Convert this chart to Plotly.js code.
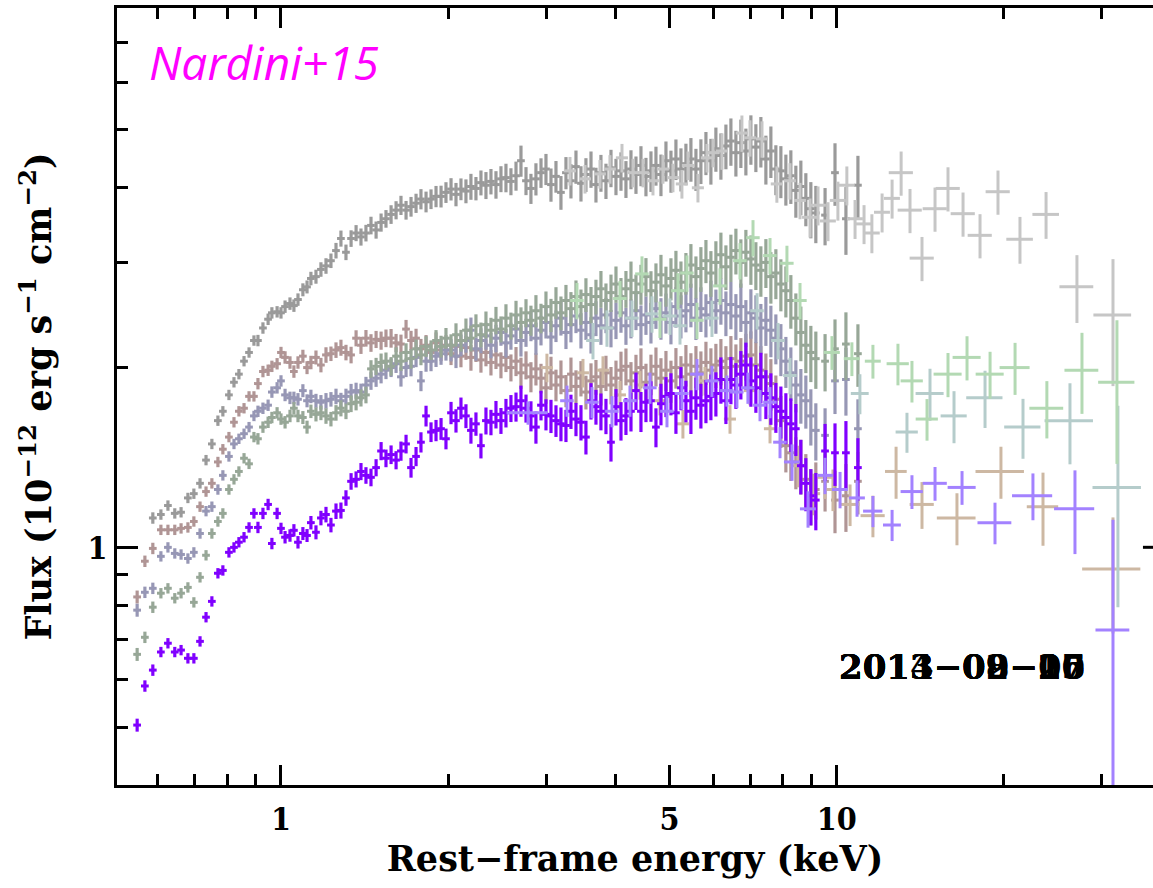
<!DOCTYPE html>
<html>
<head>
<meta charset="utf-8">
<script src="https://cdn.plot.ly/plotly-3.0.1.min.js"></script>
<style>html,body{margin:0;padding:0;background:#fff;}#plot{width:1153px;height:888px;}</style>
</head>
<body>
<div id="plot"></div>
<script>
// ---------- XMM-Newton spectra (shared energy bins, keV) ----------
const E_xmm = [
0.551,0.569,0.588,0.608,0.626,0.644,0.661,0.680,0.697,0.715,0.733,0.751,0.770,0.786,0.806,0.823,0.840,0.858,0.876,0.894,0.909,0.928,0.948,0.963,0.984,1.000,1.017,1.038,1.055,1.073,1.095,1.114,1.132,
1.156,1.180,1.205,1.230,1.256,1.282,1.309,1.337,1.365,1.393,
1.422,1.452,1.483,1.514,1.545,1.578,1.611,1.644,1.679,1.714,
1.750,1.786,1.824,1.862,1.901,1.941,1.981,2.023,2.065,2.108,
2.152,2.197,2.243,2.290,2.338,2.387,2.437,2.488,2.540,2.593,
2.648,2.703,2.760,2.817,2.876,2.937,2.998,3.061,3.125,3.190,
3.257,3.325,3.395,3.466,3.538,3.613,3.688,3.765,3.844,3.925,
4.007,4.091,4.176,4.264,4.353,4.444,4.537,4.632,4.729,4.828,
4.929,5.032,5.137,5.245,5.354,5.466,5.581,5.697,5.817,5.938,
6.062,6.189,6.319,6.451,6.586,6.723,6.864,7.008,7.154,7.304,
7.457,7.613,7.772,7.935,8.101,8.270,8.443,8.620,8.800,8.984,
9.172,
9.53,9.93,10.39,10.92];

const F_gray = [
null,null,1.12,1.135,1.175,1.14,1.145,1.21,1.23,1.28,1.40,1.49,1.63,1.69,1.80,1.89,1.95,2.05,2.12,2.22,2.22,2.33,2.41,2.47,2.48,2.47,2.53,2.56,2.54,2.60,2.70,2.73,2.82,
2.84,2.92,2.96,3.02,3.14,3.29,3.12,3.29,3.36,3.31,
3.36,3.46,3.40,3.50,3.55,3.61,3.67,3.74,3.67,3.72,
3.77,3.83,3.79,3.83,3.87,3.87,3.93,3.98,3.90,3.98,
3.95,4.02,3.99,4.08,4.04,4.10,4.05,4.14,4.16,4.10,
4.19,4.44,4.11,3.99,4.14,4.24,4.30,4.05,4.18,3.93,
4.24,4.11,4.34,4.07,4.21,4.30,4.05,4.24,4.11,4.32,
4.18,4.27,4.14,4.30,4.21,4.36,4.18,4.27,4.36,4.21,
4.44,4.27,4.47,4.30,4.39,4.47,4.30,4.44,4.58,4.44,
4.65,4.53,4.70,4.79,4.58,4.76,4.61,4.83,4.68,4.79,
4.47,4.61,4.30,4.27,4.14,4.19,3.96,4.02,3.84,3.69,
3.63,
3.60,4.24,3.55,4.04];

const F_pink = [
0.826,0.948,0.996,1.07,1.07,1.07,1.076,1.08,1.105,1.17,1.24,1.28,1.39,1.46,1.53,1.62,1.69,1.71,1.79,1.79,1.88,1.97,1.98,2.01,2.03,2.12,2.08,2.04,1.97,2.04,2.09,2.00,2.04,
2.08,2.02,2.10,2.11,2.14,2.16,2.12,2.10,2.24,2.18,
2.24,2.20,2.23,2.22,2.24,2.24,2.20,2.19,2.32,2.22,
2.24,2.15,2.18,2.12,2.20,2.14,2.18,2.11,2.17,2.09,
2.16,2.08,2.14,2.06,2.12,2.04,2.10,2.02,2.08,2.00,
2.05,1.96,2.02,1.93,1.99,1.92,1.85,1.96,1.87,1.93,
1.83,1.95,1.86,1.92,1.82,1.90,1.93,1.86,1.96,1.87,
1.92,1.98,2.01,1.90,1.96,2.00,1.89,1.95,2.01,1.92,
1.98,1.90,2.00,1.93,2.02,1.95,2.01,1.96,2.04,1.98,
2.02,2.05,2.00,2.07,2.01,2.05,2.09,2.10,2.02,1.98,
1.93,1.88,1.77,1.63,1.48,1.44,1.39,1.37,1.30,1.22,
1.25,
1.29,1.20,1.22,1.29];

const F_blue = [
0.785,0.841,0.854,0.966,1.00,0.977,0.973,0.958,0.981,1.055,1.15,1.17,1.25,1.32,1.42,1.49,1.52,1.55,1.59,1.66,1.69,1.71,1.73,1.82,1.85,1.90,1.80,1.78,1.78,1.77,1.83,1.76,1.79,
1.76,1.75,1.76,1.77,1.79,1.76,1.79,1.82,1.83,1.82,
1.87,1.90,1.92,1.95,1.98,2.00,2.03,1.93,2.00,2.01,
2.08,1.90,2.05,2.05,2.09,2.11,2.14,2.14,2.09,2.18,
2.22,2.31,2.15,2.22,2.26,2.18,2.24,2.29,2.20,2.26,
2.32,2.22,2.29,2.35,2.24,2.31,2.38,2.25,2.35,2.42,
2.29,2.36,2.44,2.31,2.38,2.27,2.42,2.35,2.45,2.33,
2.40,2.47,2.35,2.42,2.49,2.36,2.45,2.38,2.51,2.42,
2.47,2.38,2.53,2.44,2.49,2.55,2.42,2.51,2.45,2.57,
2.49,2.59,2.47,2.55,2.44,2.53,2.38,2.47,2.42,2.33,
2.40,2.31,2.24,2.15,2.05,1.96,1.87,1.80,1.76,1.66,
1.57,
1.54,1.90,1.91,1.58];

const F_green = [
0.662,0.707,0.794,0.838,0.854,0.822,0.838,0.857,0.809,0.891,0.970,1.055,1.105,1.14,1.25,1.30,1.34,1.41,1.38,1.53,1.52,1.59,1.62,1.65,1.68,1.64,1.62,1.66,1.71,1.66,1.65,1.59,1.69,
1.67,1.68,1.66,1.64,1.68,1.71,1.69,1.74,1.75,1.78,
1.80,1.99,2.01,2.04,2.05,2.01,2.09,2.05,2.12,2.07,
2.15,2.10,2.17,2.14,2.22,2.17,2.24,2.18,2.27,2.22,
2.31,2.24,2.35,2.27,2.36,2.31,2.40,2.32,2.42,2.35,
2.45,2.38,2.47,2.40,2.49,2.42,2.53,2.45,2.57,2.47,
2.59,2.51,2.63,2.53,2.65,2.55,2.63,2.71,2.59,2.67,
2.76,2.63,2.71,2.80,2.67,2.76,2.84,2.69,2.78,2.86,
2.74,2.82,2.91,2.78,2.88,2.97,2.84,2.93,3.02,2.88,
3.00,3.09,2.95,3.06,3.14,3.00,3.12,3.04,2.97,2.91,
3.00,2.84,2.88,2.76,2.69,2.59,2.42,2.29,2.18,2.12,
2.07,
2.05,2.15,2.19,2.11];

const F_purple = [
0.504,0.586,0.623,0.668,0.691,0.668,0.673,0.652,0.652,0.696,0.764,0.812,0.905,0.915,0.981,1.00,1.02,1.04,1.08,1.14,1.08,1.14,1.18,1.015,1.14,1.076,1.04,1.047,1.068,1.02,1.055,1.047,1.10,
1.06,1.12,1.135,1.09,1.15,1.153,1.21,1.29,1.30,1.34,
1.32,1.31,1.36,1.45,1.41,1.43,1.40,1.45,1.49,1.36,
1.42,1.50,1.66,1.56,1.57,1.58,1.52,1.68,1.63,1.71,
1.66,1.57,1.61,1.48,1.63,1.62,1.67,1.63,1.68,1.71,
1.72,1.76,1.71,1.66,1.59,1.73,1.67,1.66,1.63,1.61,
1.60,1.69,1.64,1.62,1.53,1.76,1.72,1.69,1.66,1.50,
1.72,1.63,1.66,1.69,1.83,1.69,1.75,1.76,1.59,1.74,
1.79,1.81,1.68,1.85,1.76,1.69,1.78,1.73,1.76,1.79,
1.81,1.91,1.76,1.91,1.87,1.95,2.02,1.90,1.85,1.93,
1.81,1.78,1.72,1.69,1.65,1.61,1.58,1.37,1.28,1.22,
1.20,
1.45,1.44,1.44,1.36];

// fractional 1-sigma flux errors of the XMM bins
const relErr_xmm = [
0.025,0.022,0.022,0.02,0.02,0.02,0.02,0.02,0.02,0.02,0.02,0.02,0.02,0.02,0.02,0.02,0.02,0.02,0.02,0.02,0.022,0.022,0.022,0.022,0.022,0.022,0.024,0.024,0.024,0.024,0.025,0.025,0.026,
0.027,0.028,0.03,0.028,0.03,0.031,0.03,0.032,0.031,0.033,
0.032,0.034,0.033,0.035,0.034,0.036,0.035,0.037,0.036,0.038,
0.037,0.039,0.04,0.038,0.041,0.042,0.04,0.043,0.045,0.042,
0.046,0.05,0.045,0.048,0.052,0.049,0.053,0.05,0.055,0.052,
0.056,0.06,0.054,0.058,0.062,0.057,0.06,0.064,0.061,0.065,
0.062,0.066,0.064,0.068,0.065,0.07,0.067,0.071,0.068,0.072,
0.07,0.074,0.071,0.075,0.072,0.077,0.074,0.078,0.075,0.08,
0.077,0.081,0.078,0.083,0.08,0.084,0.081,0.086,0.083,0.088,
0.085,0.089,0.086,0.091,0.088,0.093,0.09,0.095,0.092,0.097,
0.094,0.099,0.096,0.1,0.098,0.103,0.1,0.105,0.102,0.108,
0.11,
0.11,0.12,0.13,0.12];

// ---------- NuSTAR spectra ----------
const E_grayN = [3.312,3.525,3.750,3.908,4.108,4.300,4.482,4.671,4.868,5.074,5.266,5.400,5.628,5.842,5.989,6.216,6.752,6.982,7.338,7.805,8.241,8.590,
8.954,9.256,9.647,10.05,10.43,10.79,11.20,11.57,12.07,12.58,13.06,13.55,14.24,15.03,15.86,16.88,18.11,19.51,21.37,23.81,27.06,31.42];
const F_grayN = [4.27,4.14,4.22,4.30,4.49,4.24,4.24,4.11,4.30,4.16,4.06,4.36,4.00,4.49,4.58,4.61,4.94,4.85,4.83,4.06,4.11,3.81,
3.57,3.74,3.52,3.81,4.04,3.55,3.48,3.36,3.64,3.84,4.24,3.67,3.05,3.69,3.99,3.62,3.33,3.94,3.28,3.61,2.73,2.45];
const xFrac_grayN = [0.025,0.025,0.025,0.025,0.025,0.025,0.025,0.025,0.025,0.025,0.025,0.025,0.025,0.025,0.025,0.025,0.025,0.025,0.025,0.025,0.025,0.025,
0.033,0.033,0.033,0.033,0.033,0.033,0.033,0.033,0.033,0.033,0.05,0.05,0.05,0.05,0.05,0.05,0.05,0.05,0.055,0.055,0.07,0.078];
const yFrac_grayN = [0.055,0.055,0.055,0.055,0.055,0.055,0.055,0.055,0.055,0.055,0.055,0.055,0.055,0.055,0.055,0.07,0.07,0.07,0.07,0.07,0.07,0.07,
0.075,0.075,0.075,0.075,0.075,0.075,0.075,0.075,0.075,0.075,0.085,0.085,0.085,0.085,0.085,0.085,0.085,0.085,0.09,0.09,0.13,0.24];

const E_pinkN = [3.010,3.495,3.797,4.074,4.426,4.808,5.288,5.794,6.427,6.982,7.586,8.519,9.065,9.526,9.847,10.57,11.62,12.79,14.24,16.46,19.75,23.51,31.42];
const F_pinkN = [2.00,1.96,1.98,1.80,1.87,1.76,1.61,1.90,1.64,1.83,1.58,1.37,1.23,1.31,1.25,1.18,1.13,1.34,1.18,1.12,1.34,1.17,0.92];
const xFrac_pinkN = [0.025,0.025,0.025,0.025,0.025,0.025,0.025,0.025,0.025,0.025,0.025,0.03,0.03,0.03,0.035,0.04,0.05,0.045,0.05,0.08,0.1,0.065,0.12];
const yFrac_pinkN = [0.055,0.055,0.055,0.055,0.055,0.055,0.055,0.055,0.055,0.055,0.055,0.08,0.08,0.08,0.08,0.08,0.08,0.1,0.09,0.1,0.1,0.14,0.22];

const E_blueN = [3.643,3.860,4.282,4.652,5.012,5.224,5.964,7.190,7.842,8.241,11.01,13.38,14.72,16.26,18.49,21.64,26.29,32.07];
const F_blueN = [2.22,2.33,2.42,2.46,2.44,2.35,2.42,2.49,2.22,1.94,1.81,1.56,1.81,1.66,1.78,1.59,1.63,1.26];
const xFrac_blueN = [0.028,0.028,0.028,0.028,0.028,0.028,0.028,0.028,0.028,0.028,0.037,0.046,0.058,0.054,0.075,0.075,0.1,0.1];
const yFrac_blueN = [0.07,0.07,0.07,0.07,0.07,0.07,0.07,0.07,0.07,0.07,0.077,0.077,0.1,0.1,0.11,0.115,0.155,0.37];

const E_greenN = [3.409,4.074,4.463,4.808,5.181,5.377,5.605,6.166,6.699,7.070,7.586,8.137,8.590,9.806,10.65,11.62,12.89,13.66,14.54,15.86,17.16,18.88,20.94,23.89,27.63,31.94];
const F_greenN = [2.59,2.61,2.87,2.41,2.69,2.88,2.40,2.74,3.02,3.30,3.08,2.99,2.59,2.12,2.07,2.05,2.03,1.90,1.64,1.95,2.08,1.95,2.00,1.71,1.98,1.89];
const xFrac_greenN = [0.028,0.028,0.028,0.028,0.028,0.028,0.028,0.028,0.028,0.028,0.028,0.028,0.028,0.033,0.033,0.033,0.046,0.046,0.046,0.058,0.058,0.058,0.062,0.07,0.07,0.075];
const yFrac_greenN = [0.07,0.07,0.07,0.07,0.07,0.07,0.07,0.07,0.07,0.07,0.07,0.07,0.07,0.065,0.065,0.065,0.08,0.08,0.08,0.085,0.085,0.09,0.1,0.11,0.155,0.27];

const E_purpleN = [2.783,3.271,3.628,3.941,4.246,4.613,4.950,5.266,5.605,5.964,6.345,6.614,6.922,7.278,7.586,7.907,8.311,8.880,9.528,10.14,10.88,11.62,12.58,13.66,15.03,16.81,19.27,22.55,26.84,31.42];
const F_purpleN = [1.68,1.76,1.75,1.69,1.76,1.85,1.69,1.81,1.95,1.90,1.83,1.82,1.85,1.73,1.75,1.50,1.39,1.16,1.32,1.25,1.21,1.15,1.09,1.24,1.28,1.26,1.10,1.22,1.16,0.727];
const xFrac_purpleN = [0.085,0.028,0.028,0.028,0.028,0.028,0.028,0.028,0.028,0.028,0.028,0.028,0.028,0.028,0.028,0.028,0.033,0.033,0.033,0.033,0.033,0.04,0.037,0.046,0.05,0.058,0.07,0.083,0.083,0.07];
const yFrac_purpleN = [0.045,0.06,0.06,0.06,0.06,0.06,0.06,0.06,0.06,0.06,0.06,0.06,0.06,0.06,0.06,0.06,0.07,0.07,0.07,0.07,0.07,0.06,0.06,0.065,0.065,0.065,0.08,0.09,0.16,0.53];

const obsDates = ['2013-08-27','2013-09-06','2013-09-15','2013-09-20','2014-02-26'];

// ---------- build traces ----------
function mul(a, f) { return a.map((v, i) => (v == null ? null : v * f[i])); }

function xmmTrace(y, color) {
  return {
    type: 'scatter', mode: 'markers', x: E_xmm, y: y,
    marker: {size: 3, color: color},
    error_y: {type: 'data', array: mul(y, relErr_xmm), color: color, thickness: 3.2, width: 0},
    error_x: {type: 'percent', value: 1.6, color: color, thickness: 3, width: 0},
    hoverinfo: 'skip', showlegend: false
  };
}
function nuTrace(x, y, xf, yf, color) {
  return {
    type: 'scatter', mode: 'markers', x: x, y: y,
    marker: {size: 3, color: color},
    error_y: {type: 'data', array: mul(y, yf), color: color, thickness: 3, width: 0},
    error_x: {type: 'data', array: mul(x, xf), color: color, thickness: 3, width: 0},
    hoverinfo: 'skip', showlegend: false
  };
}

const data = [
  xmmTrace(F_gray, '#9a9a9a'),
  nuTrace(E_grayN, F_grayN, xFrac_grayN, yFrac_grayN, '#c6c6c6'),
  xmmTrace(F_pink, '#b09595'),
  xmmTrace(F_blue, '#9797b5'),
  xmmTrace(F_green, '#97a797'),
  nuTrace(E_pinkN, F_pinkN, xFrac_pinkN, yFrac_pinkN, '#cdb8a3'),
  nuTrace(E_blueN, F_blueN, xFrac_blueN, yFrac_blueN, '#b5cccb'),
  nuTrace(E_greenN, F_greenN, xFrac_greenN, yFrac_greenN, '#b3d9b3'),
  xmmTrace(F_purple, '#8000ff'),
  nuTrace(E_purpleN, F_purpleN, xFrac_purpleN, yFrac_purpleN, '#a382ff')
];

const serifC = 'DejaVu Serif Condensed, DejaVu Serif, serif';
const serif = 'DejaVu Serif, Liberation Serif, serif';

const annotations = obsDates.map(d => ({
  xref: 'paper', yref: 'paper', x: 0.8156, y: 0.1520,
  xanchor: 'center', yanchor: 'middle', showarrow: false,
  text: '<b>' + d.replace(/-/g, '\u2212') + '</b>',
  font: {family: serif, size: 34, color: '#000'}
}));
annotations.push({
  xref: 'paper', yref: 'paper', x: 0.029, y: 0.9300,
  xanchor: 'left', yanchor: 'middle', showarrow: false,
  text: '<i>Nardini+15</i>',
  font: {family: 'Open Sans, Noto Sans, sans-serif', size: 46, color: '#ff00ff'}
});

const layout = {
  width: 1153, height: 888,
  margin: {l: 117, r: 0, t: 8, b: 103},
  paper_bgcolor: '#ffffff', plot_bgcolor: '#ffffff',
  showlegend: false,
  xaxis: {
    type: 'log', range: [-0.2951, 1.5692],
    showgrid: false, zeroline: false,
    showline: true, linecolor: '#000', linewidth: 3, mirror: 'ticks',
    ticks: 'inside', ticklen: 20, tickwidth: 3, tickcolor: '#000',
    tickvals: [1, 5, 10], ticktext: ['<b>1</b>', '<b>5</b>', '<b>10</b>'],
    ticklabelstandoff: 4,
    minor: {tickvals: [0.6, 0.7, 0.8, 0.9, 2, 3, 4, 6, 7, 8, 9, 20, 30], ticks: 'inside', ticklen: 11, tickwidth: 3, tickcolor: '#000', showgrid: false},
    tickfont: {family: serifC, size: 32, color: '#000'},
    title: {text: '<b>Rest\u2212frame energy (keV)</b>', font: {family: serif, size: 35, color: '#000'}, standoff: 6}
  },
  yaxis: {
    type: 'log', range: [-0.3979, 0.9031],
    showgrid: false, zeroline: false,
    showline: true, linecolor: '#000', linewidth: 3, mirror: false,
    ticks: 'inside', ticklen: 21, tickwidth: 3, tickcolor: '#000',
    tickvals: [1], ticktext: ['<b>1</b>'],
    minor: {tickvals: [0.5, 0.6, 0.7, 0.8, 0.9, 2, 3, 4, 5, 6, 7], ticks: 'inside', ticklen: 11, tickwidth: 3, tickcolor: '#000', showgrid: false},
    tickfont: {family: serifC, size: 32, color: '#000'},
    title: {text: '<b>Flux (10<sup>\u221212</sup> erg s<sup>\u22121</sup> cm<sup>\u22122</sup>)</b>', font: {family: serif, size: 35, color: '#000'}, standoff: 26}
  },
  shapes: [
    {type: 'line', xref: 'paper', yref: 'paper', x0: 0.9903, x1: 1.0, y0: 0.3059, y1: 0.3059, line: {color: '#000', width: 3}}
  ],
  annotations: annotations
};

Plotly.newPlot('plot', data, layout, {displayModeBar: false, staticPlot: true});
</script>
</body>
</html>
